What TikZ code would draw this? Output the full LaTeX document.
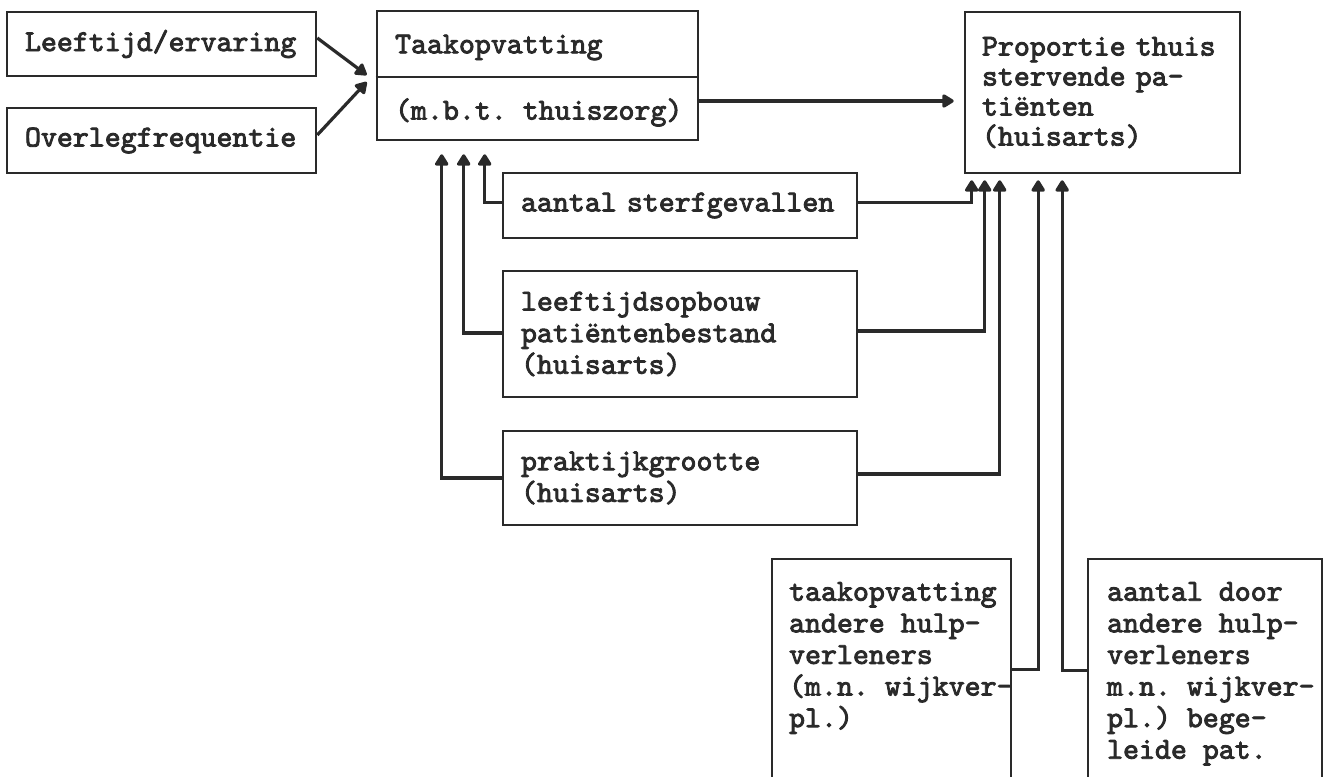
\documentclass[tikz,border=0pt]{standalone}
\usepackage{fontspec}
\newfontfamily\twfont{lmmono10-regular}[Extension=.otf, FakeBold=2.8]
\usetikzlibrary{arrows.meta,calc}
\definecolor{ink}{HTML}{2A2A2A}
\newcommand{\tw}{\twfont\frenchspacing\fontsize{15.2pt}{15.8pt}\selectfont}
\newcommand{\twtight}{\twfont\frenchspacing\fontsize{15.2pt}{15pt}\selectfont}
\tikzset{
  box/.style={draw=ink, line width=1.3pt, inner xsep=9pt, inner ysep=0pt, align=left, font=\tw, text=ink},
  txt/.style={inner sep=0pt, align=left, font=\tw, text=ink},
  arr/.style={draw=ink, line width=1.6pt, -{Triangle[width=7.5pt,length=6.5pt,round]}}
}
\begin{document}
\begin{tikzpicture}[x=0.5pt,y=-0.5pt]
\useasboundingbox[fill=white] (0,0) rectangle (1324,777);
% left input boxes
\node[box, minimum width=154.5pt, minimum height=32pt, text width=136.5pt] (lee) at (161.5,44) {\mbox{Leeftijd/ervaring}};
\node[box, minimum width=154.5pt, minimum height=32.5pt, text width=136.5pt] (ove) at (161.5,140.5) {\mbox{Overlegfrequentie}};
% Taakopvatting
\node[box, minimum width=160.5pt, minimum height=64.5pt] (taak) at (537.5,75.5) {};
\draw[draw=ink, line width=1.3pt] ([yshift=-0.75pt]taak.west) -- ([yshift=-0.75pt]taak.east);
\node[txt, anchor=west] (taakA) at ([xshift=9.5pt,yshift=14pt]taak.west) {Taakopvatting};
\node[txt, anchor=west] (taakB) at ([xshift=9.5pt,yshift=-18.5pt]taak.west) {(m.b.t. thuiszorg)};
% Proportie
\node[box, minimum width=137.5pt, minimum height=80.5pt, text width=120.5pt, inner xsep=8.5pt, font=\twtight] (prop) at (1102.5,92.5) {\mbox{Proportie thuis}\\ \mbox{stervende pa-}\\ tiënten\\ (huisarts)};
% middle boxes
\node[box, minimum width=177pt, minimum height=32.5pt, text width=159pt] (aan) at (680,205.5) {\mbox{aantal sterfgevallen}};
\node[box, minimum width=177pt, minimum height=63pt, text width=159pt] (lft) at (680,334) {leeftijdsopbouw\\ patiëntenbestand\\ (huisarts)};
\node[box, minimum width=177pt, minimum height=47pt, text width=159pt] (prk) at (680,478) {praktijkgrootte\\ (huisarts)};
% bottom open boxes
\node[box, minimum width=119.5pt, minimum height=120.5pt] (tka) at (891.5,679.5) {};
\node[txt, anchor=north west] (tkaT) at ([xshift=9pt,yshift=-12pt]tka.north west) {taakopvatting\\ andere hulp-\\ verleners\\ (m.n. wijkver-\\ pl.)};
\node[box, minimum width=117pt, minimum height=120.5pt] (adr) at (1205,679.5) {};
\node[txt, anchor=north west] (adrT) at ([xshift=10pt,yshift=-12pt]adr.north west) {aantal door\\ andere hulp-\\ verleners\\ m.n. wijkver-\\ pl.) bege-\\ leide pat.};
% connectors
\draw[arr] ([yshift=3pt]lee.east) -- ([xshift=-4.5pt,yshift=0.25pt]taak.west);
\draw[arr] ([yshift=2.75pt]ove.east) -- ([xshift=-4.5pt,yshift=-3.25pt]taak.west);
\coordinate (tout) at ([yshift=-12.75pt]taak.east);
\draw[arr, shorten >=5pt] (tout) -- (tout -| prop.west);
\draw[arr] ([yshift=1.5pt]aan.west) -| ([xshift=54.5pt,yshift=-6.5pt]taak.south west);
\draw[arr] ([yshift=0.5pt]lft.west) -| ([xshift=44pt,yshift=-6.5pt]taak.south west);
\draw[arr] (prk.west) -| ([xshift=33pt,yshift=-6.5pt]taak.south west);
\draw[arr] ([yshift=1.5pt]aan.east) -| ([xshift=4pt,yshift=-3pt]prop.south west);
\draw[arr] ([yshift=1.5pt]lft.east) -| ([xshift=10.5pt,yshift=-3pt]prop.south west);
\draw[arr] ([yshift=2pt]prk.east) -| ([xshift=18pt,yshift=-3pt]prop.south west);
\draw[arr] ([yshift=-56pt]tka.north east) -| ([xshift=37.25pt,yshift=-3pt]prop.south west);
\draw[arr] ([yshift=-56.5pt]adr.north west) -| ([xshift=49.25pt,yshift=-3pt]prop.south west);
\end{tikzpicture}
\end{document}
